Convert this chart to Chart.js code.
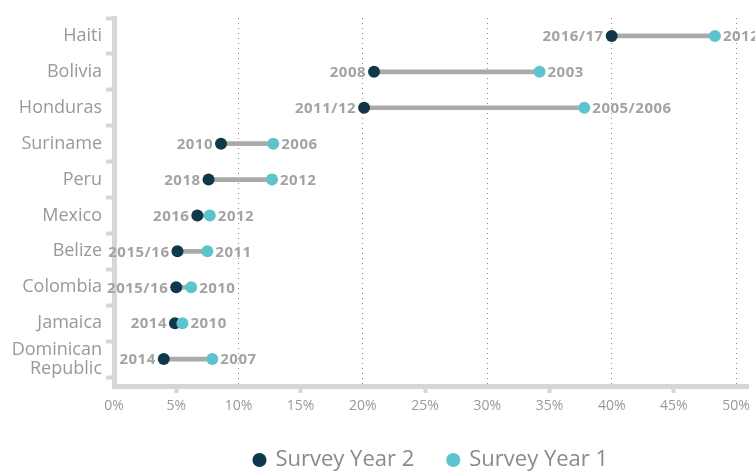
<!DOCTYPE html>
<html>
<head>
<meta charset="utf-8">
<script src="https://cdn.jsdelivr.net/npm/chart.js@4"></script>
<style>
  html, body { margin: 0; padding: 0; background: #fff; }
  #wrap { width: 755px; height: 472px; }
</style>
</head>
<body>
<div id="wrap"><canvas id="chart"></canvas></div>
<script>
const countries = ['Haiti', 'Bolivia', 'Honduras', 'Suriname', 'Peru', 'Mexico', 'Belize', 'Colombia', 'Jamaica', ['Dominican', 'Republic']];
const year2Values = [40.0, 20.9, 20.1, 8.6, 7.6, 6.7, 5.1, 5.0, 4.9, 4.0];
const year1Values = [48.3, 34.2, 37.8, 12.8, 12.7, 7.7, 7.5, 6.2, 5.5, 7.9];
const year2Labels = ['2016/17', '2008', '2011/12', '2010', '2018', '2016', '2015/16', '2015/16', '2014', '2014'];
const year1Labels = ['2012', '2003', '2005/2006', '2006', '2012', '2012', '2011', '2010', '2010', '2007'];
const xTicks = [0, 5, 10, 15, 20, 25, 30, 35, 40, 45, 50];

const DARK = '#10384b';
const TEAL = '#5cc4cc';
const GREY_TEXT = '#999999';
const AXIS = '#d6d6d6';
const FONT = "'Open Sans'";

const yearLabelPlugin = {
  id: 'yearLabels',
  afterDatasetsDraw(chart) {
    const ctx = chart.ctx;
    ctx.save();
    ctx.font = 'bold 15px ' + FONT;
    ctx.letterSpacing = '0.5px';
    ctx.fillStyle = '#a3a3a3';
    ctx.textBaseline = 'middle';
    chart.getDatasetMeta(1).data.forEach((pt, i) => {
      ctx.textAlign = 'right';
      ctx.fillText(year2Labels[i], pt.x - 8, pt.y + 1);
    });
    chart.getDatasetMeta(2).data.forEach((pt, i) => {
      ctx.textAlign = 'left';
      ctx.fillText(year1Labels[i], pt.x + 8, pt.y + 1);
    });
    ctx.restore();
  }
};

new Chart(document.getElementById('chart'), {
  data: {
    labels: countries,
    datasets: [
      { type: 'bar', label: 'gap', data: year2Values.map((v, i) => [v, year1Values[i]]),
        backgroundColor: '#aaaaaa', barThickness: 4, order: 2 },
      { type: 'line', label: 'Survey Year 2', data: year2Values, showLine: false,
        pointRadius: 6, pointHoverRadius: 6, pointBackgroundColor: DARK, pointBorderWidth: 0,
        backgroundColor: DARK, borderColor: DARK, order: 1 },
      { type: 'line', label: 'Survey Year 1', data: year1Values, showLine: false,
        pointRadius: 6, pointHoverRadius: 6, pointBackgroundColor: TEAL, pointBorderWidth: 0,
        backgroundColor: TEAL, borderColor: TEAL, order: 0 }
    ]
  },
  options: {
    indexAxis: 'y',
    responsive: true, maintainAspectRatio: false, animation: false,
    layout: { padding: { top: 18, right: 0, bottom: -9, left: 0 } },
    scales: {
      x: {
        type: 'linear', min: 0, max: 51,
        afterBuildTicks: (scale) => { scale.ticks = xTicks.map(v => ({ value: v })); },
        afterFit: (scale) => { scale.height = 29; },
        ticks: { color: GREY_TEXT, font: { family: FONT, size: 14 }, padding: 5,
                 callback: (v) => v + '%' },
        grid: {
          color: (c) => (c.tick && c.tick.value % 10 === 0 && c.tick.value > 0) ? '#8a8a8a' : 'rgba(0,0,0,0)',
          tickColor: (c) => (c.tick && c.tick.value % 10 === 5) ? AXIS : 'rgba(0,0,0,0)',
          lineWidth: 1, tickLength: 7, tickWidth: 4
        },
        border: { color: AXIS, width: 5, dash: [1, 4] }
      },
      y: {
        type: 'category',
        // leave a little extra room under the last row, above the x axis
        afterBuildTicks: (scale) => { scale._valueRange += 0.25; },
        afterFit: (scale) => { scale.width = 114; scale.paddingTop = 0; scale.paddingBottom = 0; },
        ticks: { color: GREY_TEXT, font: { family: FONT, size: 18, lineHeight: 1.05 }, padding: 4, autoSkip: false },
        grid: { offset: true, drawOnChartArea: false, tickLength: 8, tickWidth: 4,
                tickColor: (c) => c.index >= countries.length ? 'rgba(0,0,0,0)' : AXIS },
        border: { color: AXIS, width: 5 }
      }
    },
    plugins: {
      tooltip: { enabled: false },
      legend: {
        position: 'bottom',
        fullSize: false,
        labels: {
          filter: (item) => item.datasetIndex !== 0,
          sort: (a, b) => a.datasetIndex - b.datasetIndex,
          usePointStyle: true, pointStyle: 'circle', boxWidth: 10, boxHeight: 10,
          color: '#8a8a8a', font: { family: FONT, size: 22 }, padding: 34
        }
      }
    }
  },
  plugins: [yearLabelPlugin]
});
</script>
</body>
</html>
